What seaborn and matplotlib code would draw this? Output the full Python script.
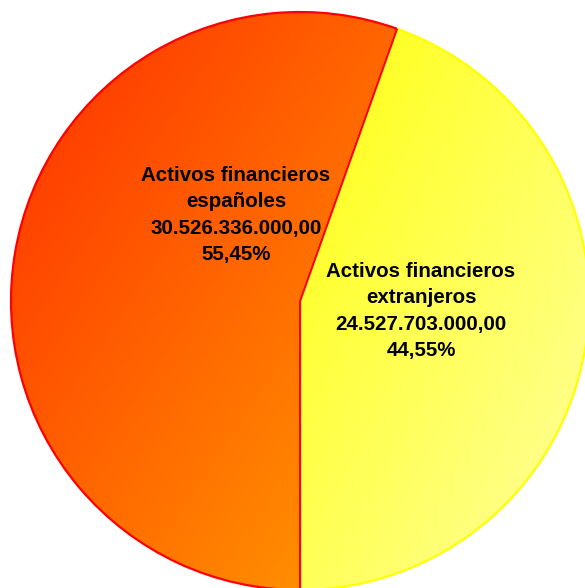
import numpy as np
import matplotlib
matplotlib.use("Agg")
import matplotlib.pyplot as plt
from matplotlib.colors import LinearSegmentedColormap
import seaborn as sns

categories = ["Activos financieros\nespañoles", "Activos financieros\nextranjeros"]
values = [30526336000.00, 24527703000.00]
value_labels = ["30.526.336.000,00", "24.527.703.000,00"]
pct_labels = ["55,45%", "44,55%"]

grad_colors = [("#FF2E00", "#FF9C00"), ("#FFFF10", "#FFFFA0")]
edge_colors = ["#FF0000", "#FFFF00"]

sns.set_theme(style="white")
plt.rcParams['font.family'] = ['Liberation Sans', 'DejaVu Sans']

W, H = 585, 588
fig = plt.figure(figsize=(W / 100, H / 100), dpi=100)
ax = fig.add_axes([0, 0, 1, 1])
ax.set_axis_off()

cx, cy, R = 300.0, 301.0, 289.0

order = [1, 0]
wedges, _ = ax.pie([values[i] for i in order], startangle=-90, counterclock=True,
                   radius=1.0, center=(0, 0), frame=True,
                   wedgeprops=dict(linewidth=0))

for w, i in zip(wedges, order):
    w.set_facecolor('none')
    c0, c1 = grad_colors[i]
    cmap = LinearSegmentedColormap.from_list(f"g{i}", [c0, c1])
    theta1, theta2 = np.deg2rad(w.theta1), np.deg2rad(w.theta2)
    ang = np.linspace(theta1, theta2, 200)
    xs = np.concatenate([[0], np.cos(ang)])
    ys = np.concatenate([[0], np.sin(ang)])
    x0, x1, y0, y1 = xs.min(), xs.max(), ys.min(), ys.max()
    gx, gy = np.meshgrid(np.linspace(0, 1, 300), np.linspace(0, 1, 300))
    t = (gx + gy) / 2.0
    im = ax.imshow(t, cmap=cmap, extent=[x0, x1, y0, y1], origin='upper',
                   aspect='auto', zorder=1, interpolation='bilinear')
    im.set_clip_path(w)
    w.set_edgecolor(edge_colors[i])
    w.set_linewidth(1.6)
    w.set_zorder(2)

label_pos = {0: (-64 / R, 86 / R), 1: (121 / R, -10 / R)}
for i in range(len(categories)):
    txt = f"{categories[i]}\n{value_labels[i]}\n{pct_labels[i]}"
    x, y = label_pos[i]
    ax.text(x, y, txt, ha='center', va='center', fontsize=14.8, fontweight='bold',
            color='black', linespacing=1.47, zorder=3)

ax.set_xlim(-cx / R, (W - cx) / R)
ax.set_ylim(-(H - cy) / R, cy / R)
ax.set_axis_off()
fig.savefig("out.png", dpi=100)
